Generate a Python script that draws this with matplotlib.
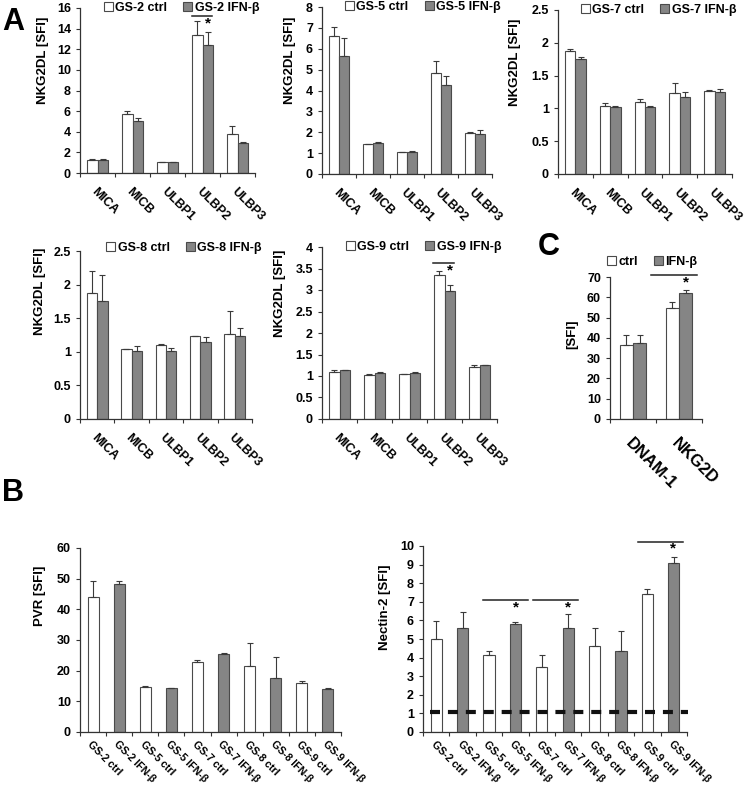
import numpy as np
import matplotlib
matplotlib.use("Agg")
import matplotlib.pyplot as plt
from matplotlib.patches import Patch
from matplotlib.ticker import FormatStrFormatter

plt.rcParams.update({"font.family": ["Liberation Sans", "DejaVu Sans"],
                     "font.weight": "bold", "font.size": 9,
                     "axes.labelweight": "bold",
                     "axes.spines.top": False, "axes.spines.right": False})

W, H = 745, 789
CTRL_C, IFN_C, EDGE = "white", "#858585", "#4a4a4a"

# ── data ─────────────────────────────────────────────────────────
LIGANDS = ["MICA", "MICB", "ULBP1", "ULBP2", "ULBP3"]

GS2_CTRL = [1.28, 5.75, 1.05, 13.4, 3.8]
GS2_CTRL_ERR = [0.08, 0.3, 0.0, 1.3, 0.8]
GS2_IFN = [1.3, 5.08, 1.05, 12.38, 2.9]
GS2_IFN_ERR = [0.08, 0.3, 0.0, 1.3, 0.15]

GS5_CTRL = [6.6, 1.43, 1.03, 4.82, 1.98]
GS5_CTRL_ERR = [0.45, 0.0, 0.0, 0.6, 0.03]
GS5_IFN = [5.67, 1.49, 1.05, 4.26, 1.9]
GS5_IFN_ERR = [0.83, 0.03, 0.03, 0.42, 0.2]

GS7_CTRL = [1.88, 1.04, 1.1, 1.23, 1.27]
GS7_CTRL_ERR = [0.03, 0.04, 0.05, 0.15, 0.01]
GS7_IFN = [1.75, 1.02, 1.02, 1.17, 1.25]
GS7_IFN_ERR = [0.03, 0.02, 0.02, 0.08, 0.04]

GS8_CTRL = [1.88, 1.04, 1.1, 1.23, 1.27]
GS8_CTRL_ERR = [0.32, 0.0, 0.02, 0.0, 0.33]
GS8_IFN = [1.75, 1.01, 1.01, 1.15, 1.24]
GS8_IFN_ERR = [0.4, 0.07, 0.05, 0.07, 0.12]

GS9_CTRL = [1.1, 1.02, 1.05, 3.34, 1.21]
GS9_CTRL_ERR = [0.05, 0.02, 0.0, 0.11, 0.05]
GS9_IFN = [1.13, 1.07, 1.07, 2.97, 1.25]
GS9_IFN_ERR = [0.02, 0.02, 0.02, 0.15, 0.0]

RECEPTORS = ["DNAM-1", "NKG2D"]
REC_CTRL = [36.7, 54.8]
REC_CTRL_ERR = [4.8, 2.7]
REC_IFN = [37.7, 62.0]
REC_IFN_ERR = [3.8, 1.5]

SAMPLES = ["GS-2 ctrl", "GS-2 IFN-β", "GS-5 ctrl", "GS-5 IFN-β", "GS-7 ctrl",
           "GS-7 IFN-β", "GS-8 ctrl", "GS-8 IFN-β", "GS-9 ctrl", "GS-9 IFN-β"]
PVR = [44.0, 48.3, 14.7, 14.2, 22.8, 25.4, 21.6, 17.5, 16.1, 14.1]
PVR_ERR = [5.1, 0.8, 0.3, 0.3, 0.7, 0.5, 7.5, 7.1, 0.5, 0.4]
NECTIN = [4.98, 5.58, 4.12, 5.8, 3.52, 5.6, 4.62, 4.38, 7.4, 9.07]
NECTIN_ERR = [1.0, 0.87, 0.26, 0.12, 0.63, 0.72, 0.95, 1.03, 0.27, 0.33]
NECTIN_BASE = 1.1


def axes_px(l, t, r, b):
    return fig.add_axes([l / W, 1 - b / H, (r - l) / W, (b - t) / H])


def style(ax, n, ymax, ystep, labels, pad, rot_fs=9, ylab="NKG2DL [SFI]",
          lab_x=-0.17, lab_y=0.68):
    ax.set_xlim(-0.5, n - 0.5)
    ax.set_ylim(0, ymax)
    ax.set_yticks(np.arange(0, ymax + ystep / 2, ystep))
    ax.yaxis.set_major_formatter(FormatStrFormatter("%g"))
    ax.set_xticks(np.arange(n + 1) - 0.5, [""] * (n + 1))
    ax.set_xticks(np.arange(n), labels, minor=True, rotation=-45, ha="left",
                  va="top", rotation_mode="anchor", fontsize=rot_fs)
    ax.tick_params(axis="x", which="minor", length=0, pad=pad)
    ax.tick_params(axis="both", which="major", length=3, width=0.8,
                   color="#333333", labelsize=9)
    for s in ("left", "bottom"):
        ax.spines[s].set_color("#333333")
        ax.spines[s].set_linewidth(0.9)
    ax.set_ylabel(ylab, fontsize=9.5)
    ax.yaxis.set_label_coords(lab_x, lab_y)


def paired(ax, ctrl, ctrl_err, ifn, ifn_err, w=0.3):
    x = np.arange(len(ctrl))
    for off, v, e, c in [(-w / 2, ctrl, ctrl_err, CTRL_C), (w / 2, ifn, ifn_err, IFN_C)]:
        ax.bar(x + off, v, w, color=c, edgecolor=EDGE, lw=0.8, zorder=2)
        ax.errorbar(x + off, v, yerr=[np.zeros(len(v)), e], fmt="none",
                    ecolor="#3a3a3a", elinewidth=0.8, capsize=2, capthick=0.8, zorder=3)


def legend(ax, a, b, x, y):
    h = [Patch(facecolor=CTRL_C, edgecolor=EDGE, lw=0.8),
         Patch(facecolor=IFN_C, edgecolor=EDGE, lw=0.8)]
    ax.legend(h, [a, b], ncol=2, frameon=False, loc="center", bbox_to_anchor=(x, y),
              handlelength=0.7, handleheight=0.7, handletextpad=0.2,
              columnspacing=1.3, borderaxespad=0, fontsize=9)


def sig(ax, x0, x1, yl, xs, ys):
    ax.plot([x0, x1], [yl, yl], color="#222222", lw=1.1, clip_on=False)
    ax.text(xs, ys, "*", ha="center", va="center", fontsize=11, fontweight="bold")


fig = plt.figure(figsize=(W / 100, H / 100), dpi=100)

# ── A: NKG2D ligands ─────────────────────────────────────────────
panels = [((80, 8, 255, 173), "GS-2", GS2_CTRL, GS2_CTRL_ERR, GS2_IFN, GS2_IFN_ERR, 16, 2, -0.175, 0.685, 0.58, 1.0),
          ((322, 7, 492, 174), "GS-5", GS5_CTRL, GS5_CTRL_ERR, GS5_IFN, GS5_IFN_ERR, 8, 1, -0.15, 0.68, 0.594, 1.0),
          ((558, 10, 732, 174), "GS-7", GS7_CTRL, GS7_CTRL_ERR, GS7_IFN, GS7_IFN_ERR, 2.5, 0.5, -0.21, 0.68, 0.578, 1.0),
          ((80, 251, 252, 419), "GS-8", GS8_CTRL, GS8_CTRL_ERR, GS8_IFN, GS8_IFN_ERR, 2.5, 0.5, -0.195, 0.76, 0.605, 1.02),
          ((322, 247, 497, 419), "GS-9", GS9_CTRL, GS9_CTRL_ERR, GS9_IFN, GS9_IFN_ERR, 4, 0.5, -0.203, 0.733, 0.58, 1.0)]
axA = []
for box, name, c, ce, i, ie, ymax, step, lx, ly, gx, gy in panels:
    ax = axes_px(*box)
    paired(ax, c, ce, i, ie)
    style(ax, 5, ymax, step, LIGANDS, pad=9, lab_x=lx, lab_y=ly)
    legend(ax, f"{name} ctrl", f"{name} IFN-β", gx, gy)
    axA.append(ax)
sig(axA[0], 2.7, 3.28, 15.2, 3.16, 14.5)
sig(axA[4], 2.66, 3.27, 3.63, 3.16, 3.45)

# ── C: receptors ─────────────────────────────────────────────────
axC = axes_px(610, 277, 702, 419)
paired(axC, REC_CTRL, REC_CTRL_ERR, REC_IFN, REC_IFN_ERR, w=0.29)
style(axC, 2, 70, 10, RECEPTORS, pad=12, rot_fs=12, ylab="[SFI]", lab_x=-0.34, lab_y=0.6)
legend(axC, "ctrl", "IFN-β", 0.457, 1.106)
sig(axC, 0.39, 1.39, 71, 1.15, 67.5)

# ── B: PVR / Nectin-2 ───────────────────────────────────────────
axBL = axes_px(80, 548, 341, 732)
axBR = axes_px(423, 546, 687, 732)
cols = [CTRL_C, IFN_C] * 5
xs = np.arange(len(SAMPLES))
for ax, vals, errs in [(axBL, PVR, PVR_ERR), (axBR, NECTIN, NECTIN_ERR)]:
    ax.bar(xs, vals, 0.42, color=cols, edgecolor=EDGE, lw=0.8, zorder=2)
    ax.errorbar(xs, vals, yerr=[np.zeros(len(vals)), errs], fmt="none",
                ecolor="#3a3a3a", elinewidth=0.8, capsize=2, capthick=0.8, zorder=3)
style(axBL, 10, 60, 10, SAMPLES, pad=5, rot_fs=7.6, ylab="PVR [SFI]", lab_x=-0.132, lab_y=0.74)
style(axBR, 10, 10, 1, SAMPLES, pad=5, rot_fs=7.6, ylab="Nectin-2 [SFI]", lab_x=-0.12, lab_y=0.67)
axBR.plot([-0.25, 9.55], [NECTIN_BASE, NECTIN_BASE], color="#111111", lw=3,
          ls=(0, (2.4, 1.9)), zorder=4, clip_on=False)
sig(axBR, 1.78, 3.48, 7.09, 3.02, 6.7)
sig(axBR, 3.68, 5.38, 7.09, 5.0, 6.7)
sig(axBR, 7.66, 9.36, 10.2, 8.96, 9.86)

# panel letters
for lab, px, py in [("A", 13, 22), ("B", 13, 493), ("C", 549, 247)]:
    fig.text(px / W, 1 - py / H, lab, fontsize=22, fontweight="bold",
             ha="center", va="center")

fig.savefig("out.png", dpi=100)
